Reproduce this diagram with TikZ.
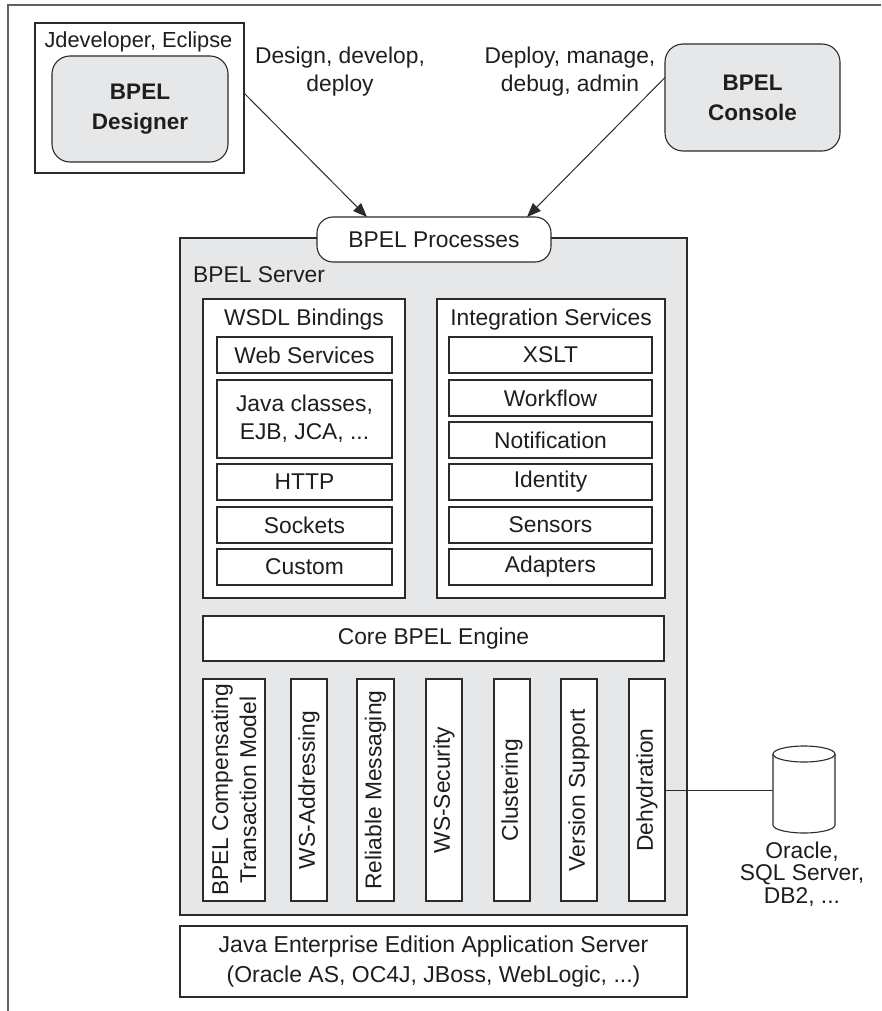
\documentclass[tikz,border=0pt]{standalone}
\usepackage{fontspec}
\setmainfont{Liberation Sans}
\usetikzlibrary{arrows.meta}
\definecolor{gfill}{HTML}{E6E7E8}
\definecolor{linec}{HTML}{2B2B2B}
\definecolor{framec}{HTML}{606060}
\definecolor{txtc}{HTML}{1E1E1E}
\begin{document}
\begin{tikzpicture}[x=1pt,y=-1pt,
  txt/.style={font=\fontsize{22.8}{28}\selectfont, text=txtc, align=center, inner sep=0pt},
  box/.style={draw=linec, line width=1.1pt, fill=white, inner sep=0pt, outer sep=0pt, txt},
  rbox/.style={box, rounded corners=18pt},
  boldtxt/.style={font=\fontsize{22.5}{30}\selectfont\bfseries},
  conn/.style={draw=linec, line width=1pt},
  arr/.style={conn, -{Triangle[length=14pt,width=11pt]}}]
\useasboundingbox (0,0) rectangle (881,1011);
\draw[framec, line width=1.8pt] (8,1011) -- (8,5) -- (881,5);

% top tools
\node[box, minimum width=209pt, minimum height=150pt] (jdev) at (139.5,98) {};
\node[txt, font=\fontsize{21.8}{28}\selectfont] (jdevt) at (138.5,42) {Jdeveloper, Eclipse};
\node[rbox, fill=gfill, minimum width=176pt, minimum height=106pt, boldtxt] (designer) at (140,109) {BPEL\\Designer};
\node[rbox, fill=gfill, minimum width=175pt, minimum height=107pt, boldtxt] (console) at (752.5,97.5) {BPEL\\Console};
\node[txt] (designlbl) at (340,72) {Design, develop,\\deploy};
\node[txt] (deploylbl) at (570,72) {Deploy, manage,\\debug, admin};

% server
\node[box, fill=gfill, minimum width=507pt, minimum height=677pt] (server) at (433.5,576.5) {};
\node[rbox, rounded corners=16pt, minimum width=234pt, minimum height=45pt] (proc) at (434,239.5) {BPEL Processes};
\node[txt, anchor=west] (serverlbl) at (193,275) {BPEL Server};

\draw[arr] ([yshift=5pt]jdev.east) -- ([xshift=50pt]proc.north west);
\draw[arr] ([yshift=20pt]console.west) -- ([xshift=-24pt]proc.north east);

% WSDL bindings
\node[box, minimum width=202pt, minimum height=299pt] (wsdl) at (304,448.5) {};
\node[txt] (wsdlt) at (304,320) {WSDL Bindings};
\node[box, minimum width=175pt, minimum height=36pt] (ws) at (304.5,355) {Web Services};
\node[box, minimum width=175pt, minimum height=78pt] (jc) at (304.5,419) {Java classes,\\EJB, JCA, ...};
\node[box, minimum width=175pt, minimum height=36pt] (http) at (304.5,482) {HTTP};
\node[box, minimum width=175pt, minimum height=36pt] (sock) at (304.5,525) {Sockets};
\node[box, minimum width=175pt, minimum height=36pt] (cust) at (304.5,567) {Custom};

% Integration services
\node[box, minimum width=228pt, minimum height=299pt] (integ) at (551,448.5) {};
\node[txt] (integt) at (551,320) {Integration Services};
\node[box, minimum width=203pt, minimum height=36pt] (xslt) at (550.5,355) {XSLT};
\node[box, minimum width=203pt, minimum height=36pt] (wf) at (550.5,398) {Workflow};
\node[box, minimum width=203pt, minimum height=36pt] (notif) at (550.5,440) {Notification};
\node[box, minimum width=203pt, minimum height=36pt] (ident) at (550.5,482) {Identity};
\node[box, minimum width=203pt, minimum height=36pt] (sens) at (550.5,525) {Sensors};
\node[box, minimum width=203pt, minimum height=36pt] (adapt) at (550.5,567) {Adapters};

% core
\node[box, minimum width=461pt, minimum height=45pt] (core) at (433.5,638.5) {Core BPEL Engine};

% vertical services
\node[box, rotate=90, minimum width=222pt, minimum height=62pt] (v1) at (234,790) {BPEL Compensating\\Transaction Model};
\node[box, rotate=90, minimum width=222pt, minimum height=36pt] (v2) at (309,790) {WS-Addressing};
\node[box, rotate=90, minimum width=222pt, minimum height=37pt] (v3) at (375.5,790) {Reliable Messaging};
\node[box, rotate=90, minimum width=222pt, minimum height=36pt] (v4) at (444,790) {WS-Security};
\node[box, rotate=90, minimum width=222pt, minimum height=36pt] (v5) at (512,790) {Clustering};
\node[box, rotate=90, minimum width=222pt, minimum height=36pt] (v6) at (579,790) {Version Support};
\node[box, rotate=90, minimum width=222pt, minimum height=36pt] (v7) at (647,790) {Dehydration};

% database
\node[minimum width=62pt, minimum height=87pt, inner sep=0pt, outer sep=0pt] (db) at (804,790) {};
\draw[conn, line width=1.1pt, fill=white] (773,754) -- (773,825) arc[start angle=180, end angle=360, x radius=31pt, y radius=8pt] -- (835,754);
\draw[conn, line width=1.1pt, fill=white] (804,754) ellipse [x radius=31pt, y radius=8pt];
\draw[conn] (v7.south) -- (db.west);
\node[txt, font=\fontsize{22.8}{22.5}\selectfont] (dblbl) at (802,874) {Oracle,\\SQL Server,\\DB2, ...};

% app server
\node[box, minimum width=507pt, minimum height=71pt, font=\fontsize{23}{30}\selectfont] (jee) at (433.5,961.5) {Java Enterprise Edition Application Server\\(Oracle AS, OC4J, JBoss, WebLogic, ...)};
\end{tikzpicture}
\end{document}
